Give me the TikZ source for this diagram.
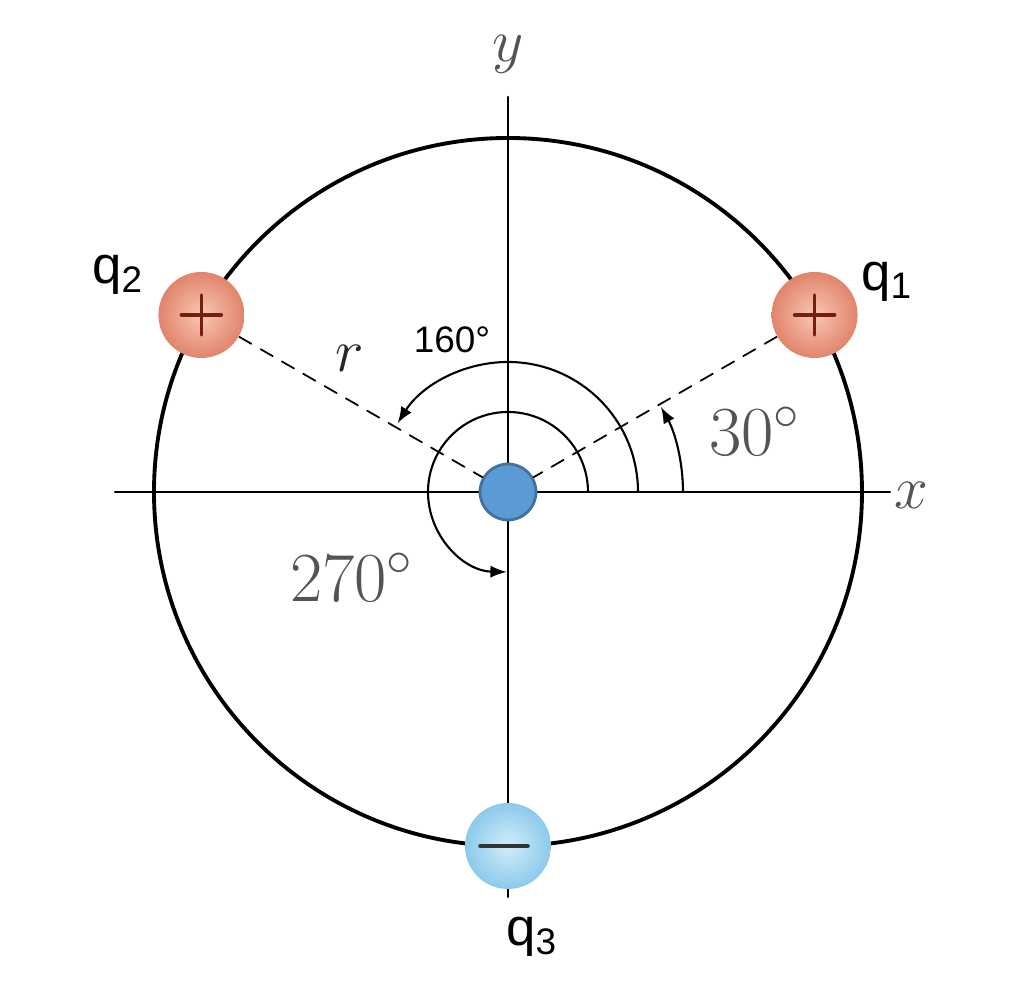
\documentclass[tikz,border=0pt]{standalone}
\usepackage{fontspec}
\newfontfamily\arialfont{Liberation Sans}
\definecolor{dotblue}{rgb}{0.357,0.608,0.835}
\definecolor{dotedge}{rgb}{0.255,0.443,0.612}
\definecolor{posin}{rgb}{0.98,0.78,0.70}
\definecolor{posout}{rgb}{0.88,0.52,0.42}
\definecolor{negin}{rgb}{0.82,0.93,0.98}
\definecolor{negout}{rgb}{0.55,0.79,0.92}
\definecolor{signred}{rgb}{0.45,0.12,0.08}
\definecolor{txtgray}{rgb}{0.33,0.33,0.33}
\tikzset{charge/.style={circle,minimum size=0.86cm,inner sep=0pt,shading=radial}}

\begin{document}
\begin{tikzpicture}[line cap=round,line join=round,>=latex,x=1cm,y=1cm]
\useasboundingbox (-5.08,-5.08) rectangle (5.16,4.92);
\draw[line width=0.6pt] (-3.93,0) -- (3.82,0);
\draw[line width=0.6pt] (0,-4.05) -- (0,3.95);
\draw[line width=1.1pt] (0,0) circle (3.54);
\draw[line width=0.6pt,->] (1.75,0) arc (0:29:1.75);
\draw[line width=0.6pt,->] (1.3,0) arc (0:148:1.3);
\draw[line width=0.6pt,->] (0.8,0) arc (0:269:0.8);
\node[circle,minimum size=0.56cm,inner sep=0pt,fill=dotblue,draw=dotedge,line width=0.8pt] (ctr) at (0,0) {};
\node[charge,inner color=posin,outer color=posout] (qone) at (30:3.54) {};
\node[charge,inner color=posin,outer color=posout] (qtwo) at (150:3.54) {};
\node[charge,inner color=negin,outer color=negout] (qthree) at (270:3.54) {};
\draw[color=signred,line width=1pt] ([xshift=-0.2cm]qone.center) -- ([xshift=0.2cm]qone.center);
\draw[color=signred,line width=1pt] ([yshift=-0.2cm]qone.center) -- ([yshift=0.2cm]qone.center);
\draw[color=signred,line width=1pt] ([xshift=-0.2cm]qtwo.center) -- ([xshift=0.2cm]qtwo.center);
\draw[color=signred,line width=1pt] ([yshift=-0.2cm]qtwo.center) -- ([yshift=0.2cm]qtwo.center);
\draw[color=black!80,line width=1pt] ([xshift=-0.28cm]qthree.center) -- ([xshift=0.2cm]qthree.center);
\draw[line width=0.5pt,dash pattern=on 4pt off 3pt] (qone) -- (ctr);
\draw[line width=0.5pt,dash pattern=on 4pt off 3pt] (qtwo) -- (ctr);
\draw (3.79,2.10) node (lblone) {\arialfont\fontsize{15}{17}\selectfont q\textsubscript{1}};
\draw (-3.90,2.17) node (lbltwo) {\arialfont\fontsize{15}{17}\selectfont q\textsubscript{2}};
\draw (0.24,-4.45) node (lblthree) {\arialfont\fontsize{15}{17}\selectfont q\textsubscript{3}};
\draw (-0.56,1.52) node (ang160) {\arialfont\fontsize{10.5}{12}\selectfont 160°};
\draw[color=txtgray] (2.47,0.60) node (ang30) {\fontsize{20}{24}\selectfont 30$^\circ$};
\draw[color=txtgray] (-1.56,-0.86) node (ang270) {\fontsize{20}{24}\selectfont 270$^\circ$};
\draw[color=txtgray] (4.03,-0.03) node (xlab) {\fontsize{18}{22}\selectfont $x$};
\draw[color=txtgray] (0,4.38) node (ylab) {\fontsize{17}{20}\selectfont $y$};
\draw[color=black!85] (-1.58,1.34) node (rlab) {\fontsize{16}{18}\selectfont $r$};
\end{tikzpicture}
\end{document}
